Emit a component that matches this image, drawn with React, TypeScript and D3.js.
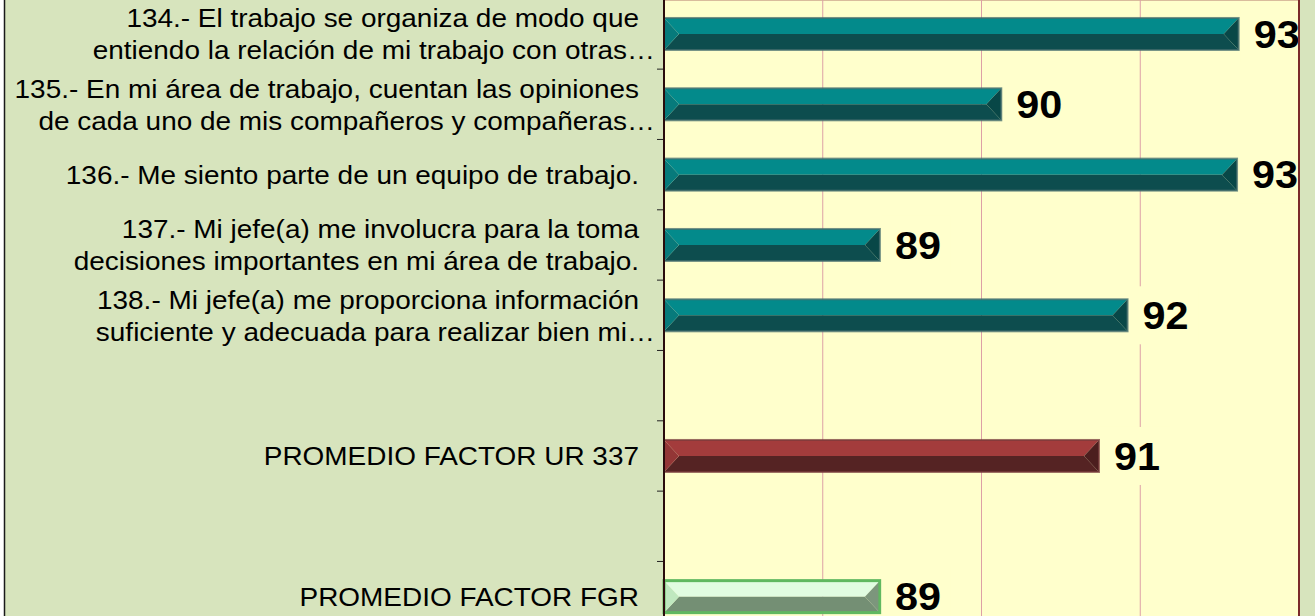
import React from "react";
import * as d3 from "d3";

const categories: string[] = [
  "134.- El trabajo se organiza de modo que\nentiendo la relación de mi trabajo con otras…",
  "135.- En mi área de trabajo, cuentan las opiniones\nde cada uno de mis compañeros y compañeras…",
  "136.- Me siento parte de un equipo de trabajo.",
  "137.- Mi jefe(a) me involucra para la toma\ndecisiones importantes en mi área de trabajo.",
  "138.- Mi jefe(a) me proporciona información\nsuficiente y adecuada para realizar bien mi…",
  "",
  "PROMEDIO FACTOR UR 337",
  " ",
  "PROMEDIO FACTOR FGR",
];
const values: (number | null)[] = [93.24, 90.25, 93.22, 88.72, 91.84, null, 91.48, null, 88.72];
const kinds: string[] = ["item", "item", "item", "item", "item", "", "ur", "", "fgr"];
const xDomain: [number, number] = [86, 94];
const xTicks: number[] = [86, 88, 90, 92, 94];

const palette: Record<string, { top: string; bottom: string; left: string; right: string; stroke: string; sw: number }> = {
  item: { top: "#038A8B", bottom: "#0D4D4E", left: "#077A7B", right: "#084747", stroke: "rgba(70,110,110,0.75)", sw: 2 },
  ur: { top: "#A33C3C", bottom: "#552323", left: "#933636", right: "#4C1E1E", stroke: "rgba(120,60,60,0.75)", sw: 2 },
  fgr: { top: "#E1FCE1", bottom: "#748F74", left: "#BFE8BF", right: "#7C967C", stroke: "#60B860", sw: 3 },
};

const W = 1315;
const H = 616;
const plotL = 664;
const plotR = 1299;
const plotT = -1.2;
const plotB = 631.8;
const SX = 1.075;
const font = "'Liberation Sans', Arial, sans-serif";

export default function App() {
  const x = d3.scaleLinear().domain(xDomain).range([plotL, plotR]);
  const y = d3.scaleBand<string>().domain(categories).range([plotT, plotB]).paddingInner(0).paddingOuter(0);
  const step = y.step();
  const barH = step * 0.455;
  const bev = 15;

  return (
    <svg width={W} height={H} style={{ position: "absolute", left: 0, top: 0 }} xmlns="http://www.w3.org/2000/svg">
      <rect x={0} y={0} width={W} height={H} fill="#FFFFFF" />
      <rect x={4} y={0} width={W - 4} height={H} fill="#D7E4BD" />
      <line x1={4.5} y1={0} x2={4.5} y2={H} stroke="#1a1a1a" strokeWidth={1.5} />
      {/* plot area */}
      <rect x={plotL} y={plotT} width={plotR - plotL} height={plotB - plotT} fill="#FFFFCC" />
      <line x1={plotL} y1={0.5} x2={plotR} y2={0.5} stroke="#D9BC9C" strokeWidth={1} />
      {xTicks.slice(1, -1).map((t) => (
        <line key={"g" + t} x1={x(t)} x2={x(t)} y1={plotT} y2={plotB} stroke="#DDA0A6" strokeWidth={1} />
      ))}
      {/* bars */}
      {categories.map((c, i) => {
        const v = values[i];
        if (v == null) return null;
        const p = palette[kinds[i]];
        const cy = (y(c) as number) + step / 2;
        const t = cy - barH / 2;
        const b = cy + barH / 2;
        const x0 = x(xDomain[0]);
        const x1 = x(v);
        const bv = Math.min(bev, barH / 2);
        return (
          <g key={"b" + i}>
            <polygon points={`${x0},${t} ${x1},${t} ${x1 - bv},${cy} ${x0 + bv},${cy}`} fill={p.top} />
            <polygon points={`${x0},${b} ${x1},${b} ${x1 - bv},${cy} ${x0 + bv},${cy}`} fill={p.bottom} />
            <polygon points={`${x0},${t} ${x0 + bv},${cy} ${x0},${b}`} fill={p.left} />
            <polygon points={`${x1},${t} ${x1 - bv},${cy} ${x1},${b}`} fill={p.right} />
            <rect x={x0} y={t} width={x1 - x0} height={barH} fill="none" stroke={p.stroke} strokeWidth={p.sw} />
          </g>
        );
      })}
      {/* value labels */}
      {categories.map((c, i) => {
        const v = values[i];
        if (v == null) return null;
        const cy = (y(c) as number) + step / 2;
        const x1 = x(v);
        const txt = String(Math.round(v));
        const tw = txt.length * 0.556 * 38.5 * SX;
        return (
          <g key={"v" + i}>
            <rect x={x1 + 1.5} y={cy - 29} width={15 + tw + 8} height={58} fill="#FFFFCC" />
            <text
              transform={`translate(${x1 + 15},${cy + 13.8}) scale(${SX},1)`}
              fontFamily={font}
              fontWeight="bold"
              fontSize={38.5}
              fill="#000"
            >
              {txt}
            </text>
          </g>
        );
      })}
      {/* axes and borders */}
      <line x1={plotR} x2={plotR} y1={plotT} y2={plotB} stroke="#7A2A2A" strokeWidth={2} />
      <rect x={plotR + 1} y={0} width={W - plotR - 1} height={H} fill="#D7E4BD" />
      {categories.map((c, i) => (
        <line key={"t" + i} x1={plotL - 7} x2={plotL} y1={(y(c) as number) + step} y2={(y(c) as number) + step} stroke="#222" strokeWidth={1} />
      ))}
      <line x1={plotL} x2={plotL} y1={plotT} y2={plotB} stroke="#2A0C0C" strokeWidth={2} />
      {/* category labels */}
      {categories.map((c, i) => {
        const lines = c.trim() === "" ? [] : c.split("\n");
        const cy = (y(c) as number) + step / 2;
        const lh = 32;
        return lines.map((ln, j) => {
          const base = cy - ((lines.length - 1) * lh) / 2 + j * lh + 9.3;
          const endX = ln.endsWith("…") ? 639 + 16 : 639;
          return (
            <text
              key={"l" + i + "_" + j}
              transform={`translate(${endX},${base}) scale(${SX},1)`}
              textAnchor="end"
              fontFamily={font}
              fontSize={26}
              fill="#000"
            >
              {ln}
            </text>
          );
        });
      })}
    </svg>
  );
}
